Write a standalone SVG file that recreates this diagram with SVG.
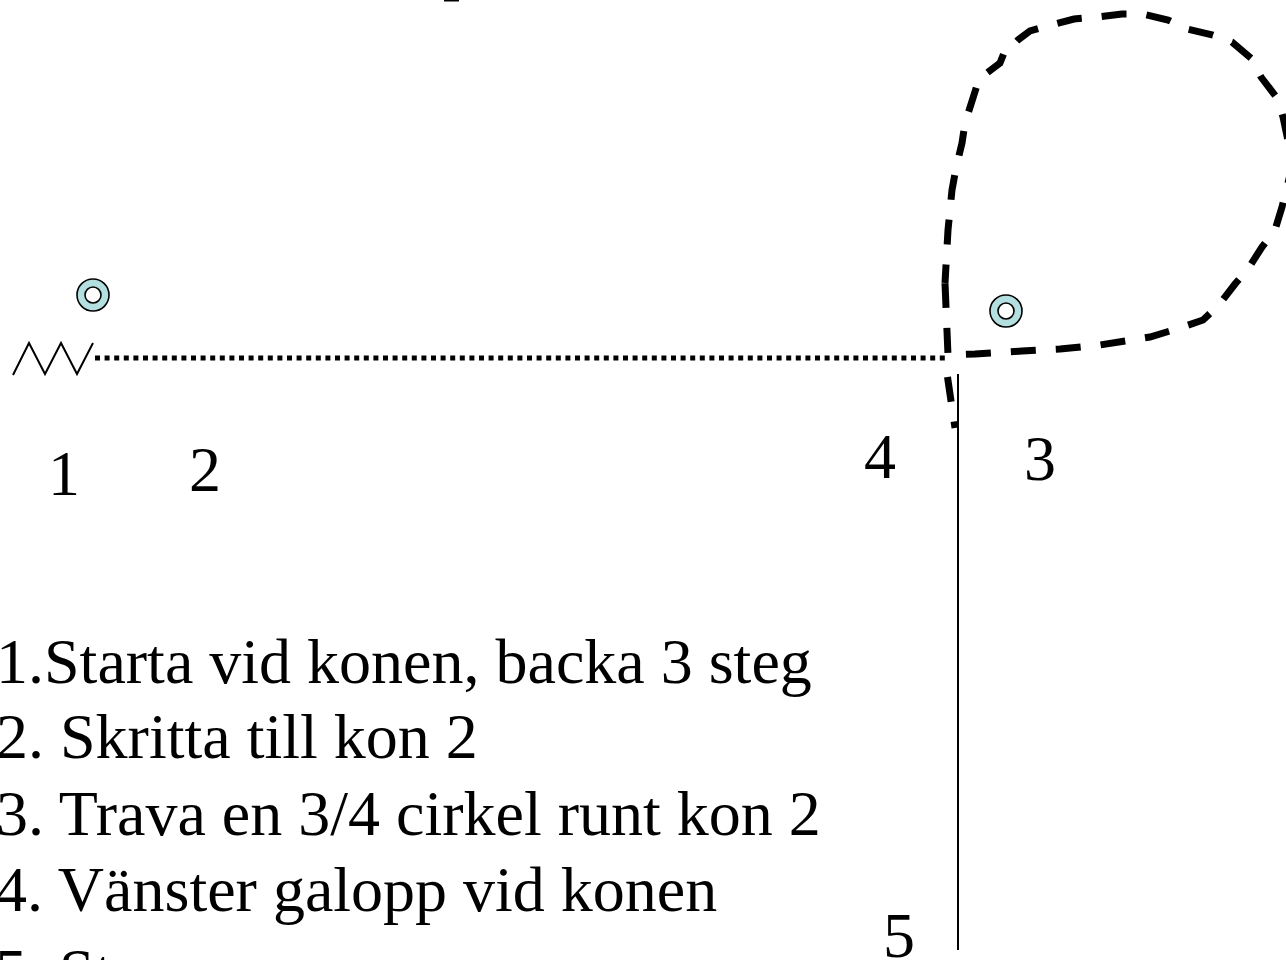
<svg xmlns="http://www.w3.org/2000/svg" width="1286" height="960" viewBox="0 0 1286 960">
<style>
.t{font-family:"Liberation Serif","Times New Roman",serif;fill:#000}
.lst{font-size:64px}
.lbl{font-size:64px}
.cone-o{fill:#b4dfe0;stroke:#000;stroke-width:1.6}
.cone-i{fill:#fff;stroke:#000;stroke-width:1.6}
</style>
<rect width="1286" height="960" fill="#fff"/>
<rect x="444" y="0" width="15" height="1.5" fill="#000"/>
<g id="cone1"><circle class="cone-o" cx="93" cy="295" r="16"/><circle class="cone-i" cx="93" cy="295" r="8"/></g>
<g id="cone2"><circle class="cone-o" cx="1006" cy="311" r="16"/><circle class="cone-i" cx="1006" cy="311" r="8"/></g>
<g id="connectors" fill="none" stroke="#000">
<polyline points="13,375 29,343 45,374 61,343 77,374 93,343" stroke-width="2" stroke-linejoin="miter"/>
<line x1="95" y1="358" x2="945" y2="358" stroke-width="5" stroke-dasharray="5 4.6"/>
<path d="M945,283 L948,355 L975,354 L1022,351 L1060,349 L1100,345 L1150,337 L1180,328 L1203,320 L1218,306 L1235,284 L1248,269 L1262,247 L1275,230 L1282,207 L1290,175 L1290,150 L1283,117 L1277,98 L1261,77 L1252,59 L1232,42 L1213,35 L1187,29 L1168,20 L1143,14 L1122,14 L1097,17 L1074,19 L1051,25 L1030,31 L1018,40 L1012,46 L1006,48 L1000,63 L979,79 L973,98 L965,123 L962,143 L956,168 L952,190 L948,230 L945,283" stroke-width="7" stroke-dasharray="25 20"/>
<line x1="947.5" y1="377" x2="955" y2="428" stroke-width="7" stroke-dasharray="25 20"/>
<line x1="958" y1="374" x2="958" y2="950" stroke-width="2"/>
</g>
<g id="labels">
<text class="t lbl" x="48" y="495">1</text>
<text class="t lbl" x="189" y="491">2</text>
<text class="t lbl" x="864" y="478">4</text>
<text class="t lbl" x="1024" y="480">3</text>
<text class="t lbl" x="883" y="957">5</text>
</g>
<g id="list">
<text class="t lst" x="-4" y="683">1.Starta vid konen, backa 3 steg</text>
<text class="t lst" x="-4" y="758">2. Skritta till kon 2</text>
<text class="t lst" x="-4" y="835">3. Trava en 3/4 cirkel runt kon 2</text>
<text class="t lst" x="-5" y="911">4. Vänster galopp vid konen</text>
<text class="t lst" x="-5" y="993">5. St</text>
</g>
</svg>
